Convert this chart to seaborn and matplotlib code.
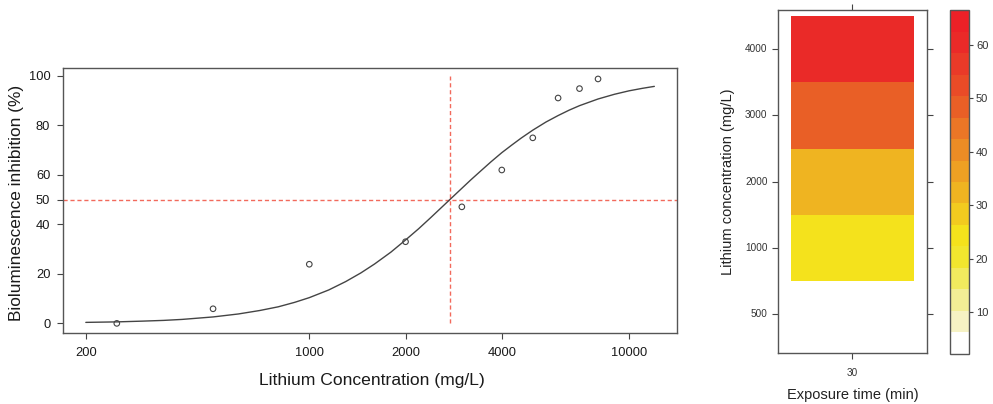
import seaborn as sns
import matplotlib.pyplot as plt
import numpy as np
import pandas as pd
from matplotlib.colors import ListedColormap, BoundaryNorm

sns.set_style('ticks')
plt.rcParams['font.family'] = ['Liberation Sans', 'DejaVu Sans']

# measured points (left panel)
conc = [250, 500, 1000, 2000, 3000, 4000, 5000, 6000, 7000, 8000]
inhib = [0, 5.9, 23.9, 33.0, 47.1, 62.0, 75.0, 91.1, 94.9, 98.8]

# fitted curve
fit_x = [200, 250, 300, 350, 400, 500, 600, 700, 800, 900, 1000, 1150, 1300,
         1450, 1600, 1800, 2000, 2200, 2400, 2750, 3000, 3200, 3450, 3700,
         4000, 4300, 4600, 5000, 5500, 6000, 6500, 7000, 8000, 9000, 10000,
         11000, 12000]
fit_y = [0.4, 0.6, 0.9, 1.2, 1.6, 2.6, 3.8, 5.2, 6.7, 8.5, 10.4, 13.5, 16.9,
         20.4, 24.0, 28.8, 33.7, 38.3, 42.8, 50.0, 54.6, 58.0, 61.8, 65.3,
         69.0, 72.1, 74.9, 78.1, 81.4, 84.0, 86.2, 88.0, 90.7, 92.6, 94.0,
         95.0, 95.8]
ec50 = 2750

x_ticks = [200, 1000, 2000, 4000, 10000]
y_ticks = [0, 20, 40, 50, 60, 80, 100]

# level plot (right panel)
levels_conc = ['4000', '3000', '2000', '1000', '500']
levels_val = [62.0, 47.1, 33.0, 23.9, 5.9]
exposure = ['30']
cbar_edges = np.linspace(2.2, 66.5, 17)
cbar_ticks = [10, 20, 30, 40, 50, 60]
heat_cols = ['#FFFFFF', '#F6F2C4', '#F3EE95', '#F1EA5E', '#F1E62E', '#F4E21C',
             '#F2CB1F', '#EFB421', '#EEA023', '#EC8C25', '#EB7626', '#E95F26',
             '#E94B27', '#E93A28', '#EA2A28', '#EC2127']

fig = plt.figure(figsize=(9.93, 4.04), dpi=100)
ax1 = fig.add_axes([0.0637, 0.1757, 0.6178, 0.6552])
ax2 = fig.add_axes([0.7838, 0.1255, 0.1494, 0.8497])
cax = fig.add_axes([0.9567, 0.1238, 0.0191, 0.8514])

# ---- left: dose-response
ax1.set_xscale('log')
red = '#F26A5C'
ax1.axhline(50, color=red, lw=1, ls=(0, (3, 2)))
ax1.plot([ec50, ec50], [0, 100], color=red, lw=1, ls=(0, (3, 2)))
sns.lineplot(x=fit_x, y=fit_y, ax=ax1, color='#444444', lw=1)
sns.scatterplot(x=conc, y=inhib, ax=ax1, color='#444444', facecolor='none',
                edgecolor='#444444', linewidth=0.8, s=16, marker='o')
ax1.set_xlim(170, 14100)
ax1.set_ylim(-3.9, 103.1)
ax1.set_xticks(x_ticks)
ax1.set_xticklabels([str(v) for v in x_ticks])
ax1.xaxis.set_minor_locator(plt.NullLocator())
ax1.set_yticks(y_ticks)
ax1.tick_params(axis='both', direction='out', length=4.3, width=0.8,
                color='#444444', labelsize=9.3, labelcolor='#1a1a1a')
ax1.tick_params(axis='x', pad=6)
ax1.tick_params(axis='y', pad=5)
for s in ax1.spines.values():
    s.set_visible(True)
    s.set_color('#555555')
    s.set_linewidth(1)
ax1.set_xlabel('Lithium Concentration (mg/L)', fontsize=12.6, color='#1a1a1a', va='center')
ax1.set_ylabel('Bioluminescence inhibition (%)', fontsize=12.4, color='#1a1a1a', va='center')
ax1.xaxis.set_label_coords(0.503, -0.181)
ax1.yaxis.set_label_coords(-0.0755, 0.49)

# ---- right: level plot
df = pd.DataFrame({exposure[0]: levels_val}, index=levels_conc)
cmap = ListedColormap(heat_cols)
norm = BoundaryNorm(cbar_edges, cmap.N)
sns.heatmap(df, ax=ax2, cbar_ax=cax, cmap=cmap, norm=norm, linewidths=0)
ax2.set_xlim(-0.102, 1.102)
ax2.set_ylim(5.09, -0.09)
ax2.set_yticklabels(levels_conc, rotation=0)
ax2.set_xticklabels(exposure, rotation=0)
ax2.tick_params(axis='both', direction='out', length=4.3, width=0.8,
                color='#444444', labelsize=7.2, labelcolor='#333333')
ax2.tick_params(axis='y', left=True, right=True, pad=3.5)
ax2.tick_params(axis='x', bottom=True, top=True, pad=6)
for s in ax2.spines.values():
    s.set_visible(True)
    s.set_color('#555555')
    s.set_linewidth(1)
ax2.set_xlabel('Exposure time (min)', fontsize=10.5, color='#222222', va='center')
ax2.set_ylabel('Lithium concentration (mg/L)', fontsize=10.5, color='#222222', va='center')
ax2.xaxis.set_label_coords(0.5, -0.1215)
ax2.yaxis.set_label_coords(-0.339, 0.5)

cb = ax2.collections[0].colorbar
cb.set_ticks(cbar_ticks)
cb.outline.set_visible(True)
cb.outline.set_linewidth(1)
cb.outline.set_edgecolor('#555555')
cax.tick_params(direction='out', length=3, width=0.8, color='#444444',
                labelsize=8, labelcolor='#333333', pad=2)
cax.minorticks_off()

fig.savefig('out.png', dpi=100)
